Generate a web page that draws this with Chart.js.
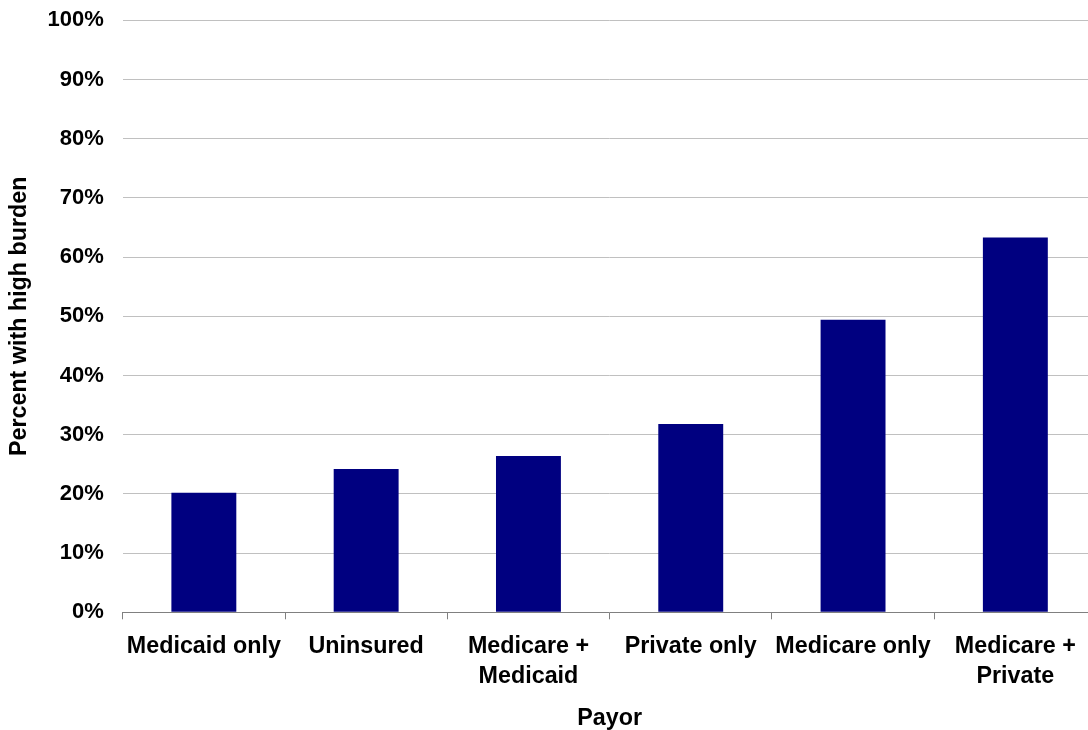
<!DOCTYPE html>
<html>
<head>
<meta charset="utf-8">
<script src="https://cdn.jsdelivr.net/npm/chart.js@4/dist/chart.umd.min.js"></script>
<style>
  html, body { margin: 0; padding: 0; background: #fff; overflow: hidden; }
  #wrap { width: 1100px; height: 730px; position: relative; }
</style>
</head>
<body>
<div id="wrap"><canvas id="chart"></canvas></div>
<script>
// Share of patients with a high burden, by payor
const payors = [
  ["Medicaid only"],
  ["Uninsured"],
  ["Medicare +", "Medicaid"],
  ["Private only"],
  ["Medicare only"],
  ["Medicare +", "Private"]
];
const highBurdenPct = [20.2, 24.2, 26.4, 31.8, 49.4, 63.3];
const yTickValues = [0, 10, 20, 30, 40, 50, 60, 70, 80, 90, 100];
const yTitle = "Percent with high burden";
const xTitle = "Payor";

const FONT = "'Liberation Sans', Arial, Helvetica, sans-serif";

new Chart(document.getElementById("chart"), {
  type: "bar",
  data: {
    labels: payors,
    datasets: [{
      data: highBurdenPct,
      backgroundColor: "#000080",
      borderWidth: 0,
      categoryPercentage: 1.0,
      barPercentage: 0.4
    }]
  },
  options: {
    responsive: true,
    maintainAspectRatio: false,
    animation: false,
    layout: { padding: { top: 20.3, right: 3.5, bottom: 0, left: 0 } },
    plugins: { legend: { display: false }, tooltip: { enabled: false } },
    scales: {
      x: {
        grid: {
          display: true,
          drawOnChartArea: false,
          drawTicks: true,
          tickLength: 7,
          color: "#808080",
          offset: true
        },
        border: { display: true, color: "#808080", width: 1 },
        ticks: {
          color: "#000",
          padding: 12,
          maxRotation: 0,
          autoSkip: false,
          font: { family: FONT, size: 23.3, weight: "bold", lineHeight: 1.3 }
        },
        title: {
          display: true,
          text: xTitle,
          color: "#000",
          padding: { top: 0, bottom: 0 },
          font: { family: FONT, size: 23.3, weight: "bold", lineHeight: 1.0 }
        },
        afterFit(scale) { scale.height = 117.7; }
      },
      y: {
        min: 0,
        max: 100,
        afterBuildTicks(scale) { scale.ticks = yTickValues.map(v => ({ value: v })); },
        grid: { color: "#c0c0c0", drawTicks: false, lineWidth: 1 },
        border: { display: false },
        ticks: {
          color: "#000",
          padding: 19,
          callback: v => v + "%",
          font: { family: FONT, size: 22, weight: "bold" }
        },
        title: {
          display: true,
          text: yTitle,
          color: "#000",
          padding: { top: 6, bottom: 0 },
          font: { family: FONT, size: 23.3, weight: "bold" }
        },
        afterFit(scale) {
          scale.width = 122.7;
          scale.paddingTop = 0;
          scale.paddingBottom = 0;
        }
      }
    }
  }
});
</script>
</body>
</html>
